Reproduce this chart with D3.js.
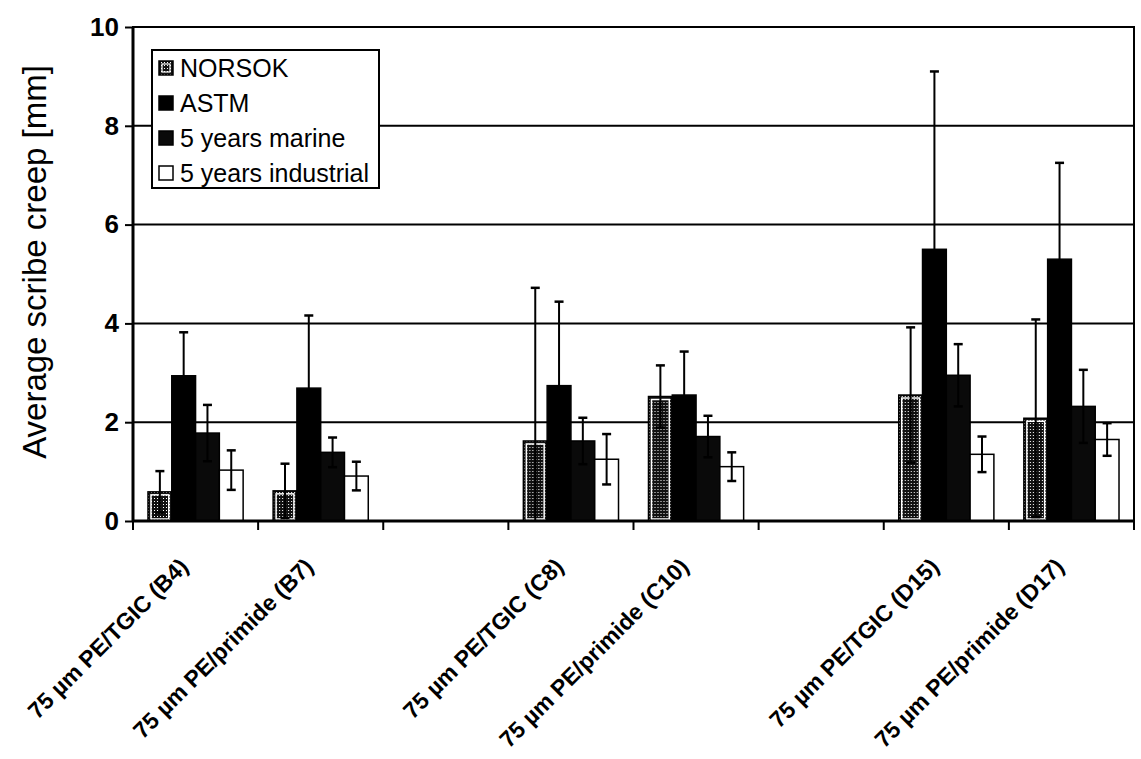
<!DOCTYPE html>
<html>
<head>
<meta charset="utf-8">
<script src="https://cdn.jsdelivr.net/npm/d3@7"></script>
<style>
  html, body { margin: 0; padding: 0; background: #fff; }
  svg { display: block; font-family: "Liberation Sans", Arial, sans-serif; }
</style>
</head>
<body>
<svg id="chart" width="1141" height="759"></svg>
<script>
// ---- data ----
const categories = [
  "75 µm PE/TGIC (B4)",
  "75 µm PE/primide (B7)",
  "",
  "75 µm PE/TGIC (C8)",
  "75 µm PE/primide (C10)",
  " ",
  "75 µm PE/TGIC (D15)",
  "75 µm PE/primide (D17)"
];
const seriesNames = ["NORSOK", "ASTM", "5 years marine", "5 years industrial"];
const norsok      = [0.59, 0.61, null, 1.62, 2.52, null, 2.55, 2.08];
const norsokErr   = [0.42, 0.55, null, 3.10, 0.63, null, 1.37, 2.00];
const astm        = [2.94, 2.69, null, 2.74, 2.55, null, 5.50, 5.30];
const astmErr     = [0.88, 1.47, null, 1.70, 0.88, null, 3.60, 1.95];
const marine      = [1.78, 1.39, null, 1.62, 1.71, null, 2.95, 2.32];
const marineErr   = [0.57, 0.30, null, 0.47, 0.42, null, 0.63, 0.74];
const industrial  = [1.03, 0.91, null, 1.25, 1.10, null, 1.35, 1.65];
const industrialErr = [0.40, 0.29, null, 0.51, 0.29, null, 0.36, 0.33];
const yTicks = [0, 2, 4, 6, 8, 10];
const yTitle = "Average scribe creep [mm]";

const seriesValues = [norsok, astm, marine, industrial];
const seriesErrors = [norsokErr, astmErr, marineErr, industrialErr];

// ---- layout ----
const svg = d3.select("#chart");
const plot = { left: 133, right: 1134, top: 27, bottom: 521 };

const x0 = d3.scaleBand().domain(categories).range([plot.left, plot.right]).paddingInner(0).paddingOuter(0);
const x1 = d3.scaleBand().domain(seriesNames).range([0, x0.bandwidth()]).paddingInner(0).paddingOuter(0.63);
const y = d3.scaleLinear().domain([0, 10]).range([plot.bottom, plot.top]);

// patterns
const defs = svg.append("defs");
const pat = defs.append("pattern").attr("id", "norsokPat").attr("patternUnits", "userSpaceOnUse")
  .attr("width", 3).attr("height", 3);
pat.append("rect").attr("width", 3).attr("height", 3).attr("fill", "#111");
pat.append("rect").attr("x", 0).attr("y", 0).attr("width", 1).attr("height", 1).attr("fill", "#fff");

const fills = ["url(#norsokPat)", "#000", "#0a0a0a", "#fff"];

// plot background
svg.append("rect").attr("x", plot.left).attr("y", plot.top)
  .attr("width", plot.right - plot.left).attr("height", plot.bottom - plot.top)
  .attr("fill", "#fff");

// gridlines
svg.append("g").selectAll("line").data(yTicks.filter(d => d > 0 && d < 10)).join("line")
  .attr("x1", plot.left).attr("x2", plot.right)
  .attr("y1", d => y(d)).attr("y2", d => y(d))
  .attr("stroke", "#000").attr("stroke-width", 2);

// bars
const groups = svg.append("g").selectAll("g").data(categories).join("g")
  .attr("transform", d => `translate(${x0(d)},0)`);

seriesNames.forEach((s, si) => {
  groups.each(function(cat, ci) {
    const v = seriesValues[si][ci];
    if (v == null) return;
    const g = d3.select(this);
    const bx = x1(s), bw = x1.bandwidth();
    g.append("rect")
      .attr("x", bx).attr("y", y(v))
      .attr("width", bw).attr("height", y(0) - y(v))
      .attr("fill", fills[si]).attr("stroke", "#000").attr("stroke-width", 1.5);
    if (si === 0) {
      g.append("rect")
        .attr("x", bx + 3).attr("y", y(v) + 3)
        .attr("width", bw - 6).attr("height", Math.max(0, y(0) - y(v) - 5))
        .attr("fill", "none").attr("stroke", "#fff").attr("stroke-width", 1.5);
    }
  });
});

// error bars
seriesNames.forEach((s, si) => {
  groups.each(function(cat, ci) {
    const v = seriesValues[si][ci];
    const e = seriesErrors[si][ci];
    if (v == null) return;
    const g = d3.select(this);
    const cx = x1(s) + x1.bandwidth() / 2;
    const hi = v + e, lo = Math.max(0, v - e);
    g.append("line").attr("x1", cx).attr("x2", cx).attr("y1", y(hi)).attr("y2", y(lo))
      .attr("stroke", "#000").attr("stroke-width", 2);
    g.append("line").attr("x1", cx - 4.5).attr("x2", cx + 4.5).attr("y1", y(hi)).attr("y2", y(hi))
      .attr("stroke", "#000").attr("stroke-width", 2.5);
    if (v - e > 0) {
      g.append("line").attr("x1", cx - 4.5).attr("x2", cx + 4.5).attr("y1", y(lo)).attr("y2", y(lo))
        .attr("stroke", "#000").attr("stroke-width", 2.5);
    }
  });
});

// frame
svg.append("rect").attr("x", plot.left).attr("y", plot.top)
  .attr("width", plot.right - plot.left).attr("height", plot.bottom - plot.top)
  .attr("fill", "none").attr("stroke", "#000").attr("stroke-width", 2);
svg.append("line").attr("x1", plot.left).attr("x2", plot.left).attr("y1", plot.top).attr("y2", plot.bottom + 1)
  .attr("stroke", "#000").attr("stroke-width", 3);
svg.append("line").attr("x1", plot.left - 1).attr("x2", plot.right).attr("y1", plot.bottom).attr("y2", plot.bottom)
  .attr("stroke", "#000").attr("stroke-width", 3);

// y axis
const yAxis = d3.axisLeft(y).tickValues(yTicks).tickSize(8).tickPadding(6).tickFormat(d3.format("d"));
const yg = svg.append("g").attr("transform", `translate(${plot.left},0)`).call(yAxis);
yg.select(".domain").remove();
yg.selectAll(".tick line").attr("stroke", "#000").attr("stroke-width", 2);
yg.selectAll(".tick text").attr("font-size", 26).attr("font-weight", "bold").attr("fill", "#000")
  .attr("font-family", "Liberation Sans, Arial, sans-serif");

// x ticks at category boundaries
const bounds = categories.map(c => x0(c)).concat([x0.range()[1]]);
svg.append("g").selectAll("line").data(bounds).join("line")
  .attr("x1", d => d).attr("x2", d => d).attr("y1", plot.bottom).attr("y2", plot.bottom + 9)
  .attr("stroke", "#000").attr("stroke-width", 2);

// x labels
svg.append("g").selectAll("text").data(categories.filter(c => c.trim() !== "")).join("text")
  .attr("transform", d => `translate(${x0(d) + x0.bandwidth() / 2 - 6},${plot.bottom + 47}) rotate(-45)`)
  .attr("text-anchor", "end")
  .attr("font-size", 23).attr("font-weight", "bold").attr("fill", "#000")
  .text(d => d);

// y title
svg.append("text")
  .attr("transform", `translate(46,${(plot.top + plot.bottom) / 2 - 12}) rotate(-90)`)
  .attr("text-anchor", "middle").attr("font-size", 33).attr("fill", "#000")
  .text(yTitle);

// legend
const lg = svg.append("g").attr("transform", "translate(152,50)");
lg.append("rect").attr("width", 227).attr("height", 138).attr("fill", "#fff")
  .attr("stroke", "#000").attr("stroke-width", 2);
const items = lg.selectAll("g").data(seriesNames).join("g")
  .attr("transform", (d, i) => `translate(0,${18 + i * 35})`);
items.append("rect").attr("x", 7).attr("y", -7).attr("width", 14).attr("height", 14)
  .attr("fill", (d, i) => fills[i]).attr("stroke", "#000").attr("stroke-width", 1.5);
items.filter((d, i) => i === 0).append("rect").attr("x", 10).attr("y", -4).attr("width", 8).attr("height", 8)
  .attr("fill", "none").attr("stroke", "#fff").attr("stroke-width", 1.2);
items.append("text").attr("x", 28).attr("y", 9).attr("font-size", 25).attr("fill", "#000")
  .text(d => d);
</script>
</body>
</html>
